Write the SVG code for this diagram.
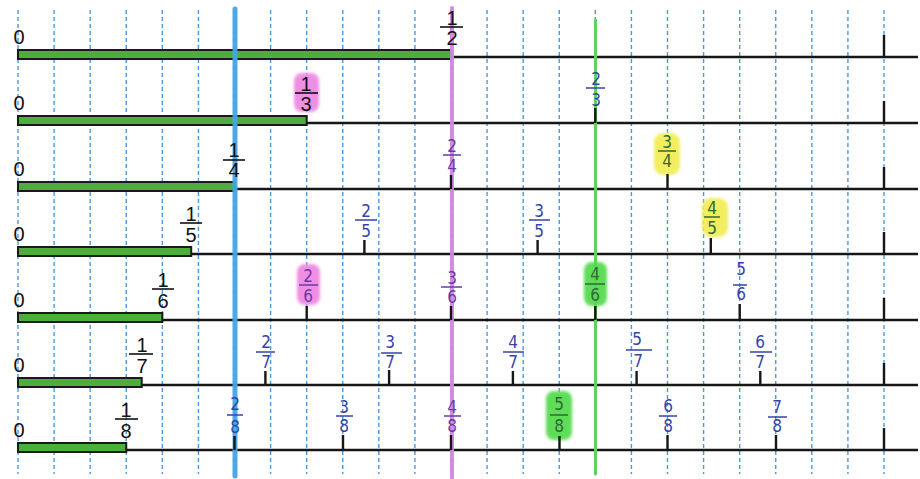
<svg xmlns="http://www.w3.org/2000/svg" width="920" height="479" viewBox="0 0 920 479">
<style>
.grid{stroke:#4a98e4;stroke-width:1.4;stroke-dasharray:4 3;fill:none}
.axis{stroke:#161616;stroke-width:2.4;fill:none}
.bar{fill:#4caf3c;stroke:#1a1a1a;stroke-width:2}
.tick{stroke:#161616;stroke-width:2.4}
.zero{font-family:"Liberation Sans",Arial,sans-serif;font-size:20px;fill:#111;text-anchor:middle}
.pf{font-family:"Liberation Sans",Arial,sans-serif;font-size:20px;fill:#111;text-anchor:middle}
.pb{stroke:#111;stroke-width:1.6}
.hf{font-family:"Liberation Sans Narrow","DejaVu Sans Condensed","Liberation Sans",sans-serif;font-size:17px;text-anchor:middle}
.blue{fill:#3543a8}.purple{fill:#6a3aa8}.dgreen{fill:#2c6b34}
.hbblue{stroke:#3543a8;stroke-width:1.5}.hbpurple{stroke:#6a3aa8;stroke-width:1.5}.hbgreen{stroke:#2c6b34;stroke-width:1.5}
.pink{fill:#ef8fe4}.yellow{fill:#f2ee60}.lime{fill:#5edd58}
</style>
<defs>
<filter id="soft" x="-30%" y="-30%" width="160%" height="160%"><feGaussianBlur stdDeviation="1.5"/></filter>
</defs>
<rect width="920" height="479" fill="#ffffff"/>
<g id="grid">
<line class="grid" x1="18" y1="10" x2="18" y2="474"/>
<line class="grid" x1="54.08" y1="10" x2="54.08" y2="474"/>
<line class="grid" x1="90.17" y1="10" x2="90.17" y2="474"/>
<line class="grid" x1="126.25" y1="10" x2="126.25" y2="474"/>
<line class="grid" x1="162.33" y1="10" x2="162.33" y2="474"/>
<line class="grid" x1="198.42" y1="10" x2="198.42" y2="474"/>
<line class="grid" x1="234.5" y1="10" x2="234.5" y2="474"/>
<line class="grid" x1="270.58" y1="10" x2="270.58" y2="474"/>
<line class="grid" x1="306.67" y1="10" x2="306.67" y2="474"/>
<line class="grid" x1="342.75" y1="10" x2="342.75" y2="474"/>
<line class="grid" x1="378.83" y1="10" x2="378.83" y2="474"/>
<line class="grid" x1="414.92" y1="10" x2="414.92" y2="474"/>
<line class="grid" x1="451" y1="10" x2="451" y2="474"/>
<line class="grid" x1="487.08" y1="10" x2="487.08" y2="474"/>
<line class="grid" x1="523.17" y1="10" x2="523.17" y2="474"/>
<line class="grid" x1="559.25" y1="10" x2="559.25" y2="474"/>
<line class="grid" x1="595.33" y1="10" x2="595.33" y2="474"/>
<line class="grid" x1="631.42" y1="10" x2="631.42" y2="474"/>
<line class="grid" x1="667.5" y1="10" x2="667.5" y2="474"/>
<line class="grid" x1="703.58" y1="10" x2="703.58" y2="474"/>
<line class="grid" x1="739.67" y1="10" x2="739.67" y2="474"/>
<line class="grid" x1="775.75" y1="10" x2="775.75" y2="474"/>
<line class="grid" x1="811.83" y1="10" x2="811.83" y2="474"/>
<line class="grid" x1="847.92" y1="10" x2="847.92" y2="474"/>
<line class="grid" x1="884" y1="10" x2="884" y2="474"/>
</g>
<g id="highlights" filter="url(#soft)">
<rect class="pink" x="294" y="73" width="25" height="39" rx="8"/>
<rect class="yellow" x="654" y="133" width="26" height="42" rx="9"/>
<rect class="yellow" x="702" y="198" width="26" height="39" rx="9"/>
<rect class="pink" x="297" y="264" width="23" height="41" rx="8"/>
<rect class="lime" x="584" y="262" width="23" height="44" rx="8"/>
<rect class="lime" x="546" y="391" width="26" height="49" rx="8"/>
</g>
<g id="axes">
<line class="axis" x1="18" y1="57" x2="918" y2="57"/>
<line class="axis" x1="18" y1="123" x2="918" y2="123"/>
<line class="axis" x1="18" y1="189" x2="918" y2="189"/>
<line class="axis" x1="18" y1="254" x2="918" y2="254"/>
<line class="axis" x1="18" y1="320" x2="918" y2="320"/>
<line class="axis" x1="18" y1="385" x2="918" y2="385"/>
<line class="axis" x1="18" y1="450" x2="918" y2="450"/>
<line class="tick" x1="884" y1="35" x2="884" y2="57"/>
<line class="tick" x1="884" y1="101" x2="884" y2="123"/>
<line class="tick" x1="884" y1="167" x2="884" y2="189"/>
<line class="tick" x1="884" y1="232" x2="884" y2="254"/>
<line class="tick" x1="884" y1="298" x2="884" y2="320"/>
<line class="tick" x1="884" y1="363" x2="884" y2="385"/>
<line class="tick" x1="884" y1="428" x2="884" y2="450"/>
</g>
<g id="bars">
<rect class="bar" x="18" y="50" width="433" height="9"/>
<rect class="bar" x="18" y="116" width="288.67" height="9"/>
<rect class="bar" x="18" y="182" width="216.5" height="9"/>
<rect class="bar" x="18" y="247" width="173.2" height="9"/>
<rect class="bar" x="18" y="313" width="144.33" height="9"/>
<rect class="bar" x="18" y="378" width="123.71" height="9"/>
<rect class="bar" x="18" y="443" width="108.25" height="9"/>
</g>
<g id="connectors">
<line x1="235" y1="9" x2="235" y2="476" stroke="#45a5e6" stroke-width="5" stroke-linecap="round" opacity="0.95"/>
<line x1="452" y1="8" x2="452" y2="479" stroke="#d08ae0" stroke-width="4" stroke-linecap="round" opacity="0.95"/>
<line x1="595.5" y1="20" x2="595.5" y2="474" stroke="#5cd35c" stroke-width="3" stroke-linecap="round"/>
</g>
<g id="zeros">
<text class="zero" x="19" y="44">0</text>
<text class="zero" x="19" y="110">0</text>
<text class="zero" x="19" y="176">0</text>
<text class="zero" x="19" y="241">0</text>
<text class="zero" x="19" y="307">0</text>
<text class="zero" x="19" y="372">0</text>
<text class="zero" x="19" y="437">0</text>
</g>
<g id="f1-2"><text class="pf" x="452" y="25">1</text><line class="pb" x1="440" y1="27" x2="463" y2="27"/><text class="pf" x="452" y="45">2</text></g>
<g id="f1-3"><text class="pf" x="306" y="91">1</text><line class="pb" x1="295" y1="93" x2="318" y2="93"/><text class="pf" x="306" y="111">3</text></g>
<g id="f2-3"><text class="hf blue" x="596" y="85">2</text><line class="hbblue" x1="586" y1="88" x2="605" y2="88"/><text class="hf blue" x="596" y="106">3</text><line class="tick" x1="595.3" y1="108" x2="595.3" y2="123"/></g>
<g id="f1-4"><text class="pf" x="234" y="157">1</text><line class="pb" x1="223" y1="160" x2="245" y2="160"/><text class="pf" x="234" y="177">4</text></g>
<g id="f2-4"><text class="hf purple" x="452" y="152">2</text><line class="hbpurple" x1="443" y1="155" x2="461" y2="155"/><text class="hf purple" x="452" y="172">4</text><line class="tick" x1="451" y1="175" x2="451" y2="189"/></g>
<g id="f3-4"><text class="hf dgreen" x="667" y="148">3</text><line class="hbgreen" x1="658" y1="151" x2="676" y2="151"/><text class="hf dgreen" x="667" y="167">4</text><line class="tick" x1="667.5" y1="174" x2="667.5" y2="189"/></g>
<g id="f1-5"><text class="pf" x="191" y="221">1</text><line class="pb" x1="180" y1="223" x2="202" y2="223"/><text class="pf" x="191" y="242">5</text></g>
<g id="f2-5"><text class="hf blue" x="366" y="217">2</text><line class="hbblue" x1="355" y1="220" x2="377" y2="220"/><text class="hf blue" x="366" y="237">5</text><line class="tick" x1="364.4" y1="240" x2="364.4" y2="254"/></g>
<g id="f3-5"><text class="hf blue" x="539" y="217">3</text><line class="hbblue" x1="529" y1="220" x2="550" y2="220"/><text class="hf blue" x="539" y="237">5</text><line class="tick" x1="537.6" y1="240" x2="537.6" y2="254"/></g>
<g id="f4-5"><text class="hf dgreen" x="712" y="214">4</text><line class="hbgreen" x1="704" y1="217" x2="720" y2="217"/><text class="hf dgreen" x="712" y="234">5</text><line class="tick" x1="710.8" y1="238" x2="710.8" y2="254"/></g>
<g id="f1-6"><text class="pf" x="163" y="287">1</text><line class="pb" x1="152" y1="289" x2="174" y2="289"/><text class="pf" x="163" y="308">6</text></g>
<g id="f2-6"><text class="hf purple" x="308" y="282">2</text><line class="hbpurple" x1="299" y1="285" x2="318" y2="285"/><text class="hf purple" x="308" y="302">6</text><line class="tick" x1="306.7" y1="306" x2="306.7" y2="320"/></g>
<g id="f3-6"><text class="hf purple" x="452" y="284">3</text><line class="hbpurple" x1="441" y1="287" x2="462" y2="287"/><text class="hf purple" x="452" y="303">6</text><line class="tick" x1="451" y1="306" x2="451" y2="320"/></g>
<g id="f4-6"><text class="hf dgreen" x="595" y="280">4</text><line class="hbgreen" x1="585" y1="284" x2="605" y2="284"/><text class="hf dgreen" x="595" y="301">6</text><line class="tick" x1="595.3" y1="306" x2="595.3" y2="320"/></g>
<g id="f5-6"><text class="hf blue" x="741" y="275">5</text><line class="hbblue" x1="733" y1="285" x2="747" y2="285"/><text class="hf blue" x="741" y="300">6</text><line class="tick" x1="739.7" y1="304" x2="739.7" y2="320"/></g>
<g id="f1-7"><text class="pf" x="142" y="352">1</text><line class="pb" x1="129" y1="354" x2="153" y2="354"/><text class="pf" x="142" y="373">7</text></g>
<g id="f2-7"><text class="hf blue" x="266" y="348">2</text><line class="hbblue" x1="256" y1="352" x2="275" y2="352"/><text class="hf blue" x="266" y="368">7</text><line class="tick" x1="265.4" y1="371" x2="265.4" y2="385"/></g>
<g id="f3-7"><text class="hf blue" x="390" y="348">3</text><line class="hbblue" x1="381" y1="353" x2="402" y2="353"/><text class="hf blue" x="390" y="368">7</text><line class="tick" x1="389.1" y1="370" x2="389.1" y2="385"/></g>
<g id="f4-7"><text class="hf blue" x="513" y="348">4</text><line class="hbblue" x1="503" y1="352" x2="524" y2="352"/><text class="hf blue" x="513" y="368">7</text><line class="tick" x1="512.9" y1="371" x2="512.9" y2="385"/></g>
<g id="f5-7"><text class="hf blue" x="637" y="345">5</text><line class="hbblue" x1="626" y1="350" x2="652" y2="350"/><text class="hf blue" x="638" y="367">7</text><line class="tick" x1="636.6" y1="371" x2="636.6" y2="385"/></g>
<g id="f6-7"><text class="hf blue" x="760" y="348">6</text><line class="hbblue" x1="750" y1="352" x2="772" y2="352"/><text class="hf blue" x="760" y="368">7</text><line class="tick" x1="760.3" y1="371" x2="760.3" y2="385"/></g>
<g id="f1-8"><text class="pf" x="126" y="417">1</text><line class="pb" x1="115" y1="419" x2="138" y2="419"/><text class="pf" x="126" y="438">8</text></g>
<g id="f2-8"><text class="hf blue" x="235" y="410">2</text><line class="hbblue" x1="227" y1="415" x2="243" y2="415"/><text class="hf blue" x="235" y="433">8</text><line class="tick" x1="234.5" y1="436" x2="234.5" y2="450"/></g>
<g id="f3-8"><text class="hf blue" x="344" y="413">3</text><line class="hbblue" x1="336" y1="416" x2="353" y2="416"/><text class="hf blue" x="344" y="432">8</text><line class="tick" x1="343" y1="435" x2="343" y2="450"/></g>
<g id="f4-8"><text class="hf purple" x="452" y="413">4</text><line class="hbpurple" x1="444" y1="416" x2="461" y2="416"/><text class="hf purple" x="452" y="432">8</text><line class="tick" x1="451" y1="435" x2="451" y2="450"/></g>
<g id="f5-8"><text class="hf dgreen" x="559" y="410">5</text><line class="hbgreen" x1="550" y1="415" x2="568" y2="415"/><text class="hf dgreen" x="559" y="432">8</text><line class="tick" x1="559.5" y1="436" x2="559.5" y2="450"/></g>
<g id="f6-8"><text class="hf blue" x="668" y="412">6</text><line class="hbblue" x1="659" y1="416" x2="677" y2="416"/><text class="hf blue" x="668" y="432">8</text><line class="tick" x1="667.5" y1="435" x2="667.5" y2="450"/></g>
<g id="f7-8"><text class="hf blue" x="777" y="413">7</text><line class="hbblue" x1="768" y1="417" x2="787" y2="417"/><text class="hf blue" x="777" y="432">8</text><line class="tick" x1="776" y1="435" x2="776" y2="450"/></g>
</svg>
